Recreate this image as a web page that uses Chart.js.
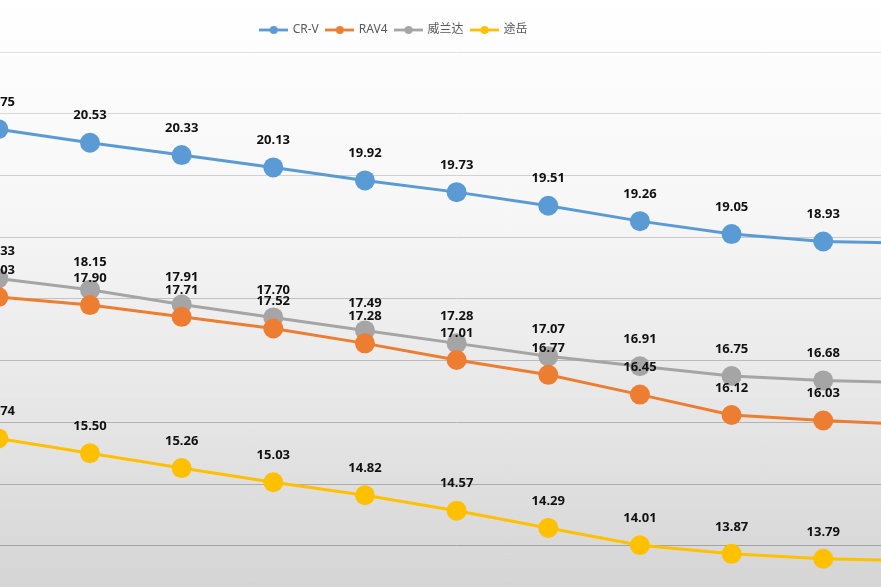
<!DOCTYPE html>
<html>
<head>
<meta charset="utf-8">
<script src="https://cdn.jsdelivr.net/npm/chart.js@4/dist/chart.umd.min.js"></script>
<style>
  html, body { margin: 0; padding: 0; }
  body {
    width: 881px; height: 587px; overflow: hidden; position: relative;
    background: linear-gradient(to bottom, #ffffff 0%, #f7f7f7 35%, #e9e9e9 65%, #d5d5d5 100%);
  }
  #chart { position: absolute; left: -130px; top: 0; }
</style>
</head>
<body>
<canvas id="chart" width="1050" height="680"></canvas>
<script>
// categories (the picture is cropped, so these are just positions)
const categories = ['1', '2', '3', '4', '5', '6', '7', '8', '9', '10', '11'];

const crv   = [20.75, 20.53, 20.33, 20.13, 19.92, 19.73, 19.51, 19.26, 19.05, 18.93, 18.90];
const rav4  = [18.03, 17.90, 17.71, 17.52, 17.28, 17.01, 16.77, 16.45, 16.12, 16.03, 15.96];
const weilanda = [18.33, 18.15, 17.91, 17.70, 17.49, 17.28, 17.07, 16.91, 16.75, 16.68, 16.64];
const tuyue = [15.74, 15.50, 15.26, 15.03, 14.82, 14.57, 14.29, 14.01, 13.87, 13.79, 13.76];

const seriesNames = ['CR-V', 'RAV4', '威兰达', '途岳'];
const seriesColors = ['#5B9BD5', '#ED7D31', '#A5A5A5', '#FFC000'];

const yMin = 12;
const yMax = 22;

// little "line + dot" marker for the legend, like the office legend
const legendMarker = (color) => {
    const c = document.createElement('canvas');
    c.width = 29;
    c.height = 10;
    const g = c.getContext('2d');
    g.strokeStyle = color;
    g.lineWidth = 2.8;
    g.beginPath();
    g.moveTo(0, 5);
    g.lineTo(29, 5);
    g.stroke();
    g.fillStyle = color;
    g.beginPath();
    g.arc(14.5, 5, 4, 0, Math.PI * 2);
    g.fill();
    return c;
}

const gridColor = (value) => {
    // lighter at the top, darker at the bottom
    const t = (yMax - value) / (yMax - 14);
    const v = Math.round(224 - t * 60);
    return 'rgb(' + v + ',' + v + ',' + v + ')';
}

const valueLabels = {
    id: 'valueLabels',
    afterDatasetsDraw(chart) {
        const ctx = chart.ctx;
        ctx.save();
        ctx.font = 'bold 13px "Noto Sans", "Noto Sans CJK SC", sans-serif';
        ctx.fillStyle = '#111111';
        ctx.textAlign = 'center';
        ctx.textBaseline = 'middle';
        chart.data.datasets.forEach((ds, i) => {
            chart.getDatasetMeta(i).data.forEach((pt, j) => {
                ctx.fillText(ds.data[j].toFixed(2), pt.x, pt.y - 27);
            });
        });
        ctx.restore();
    }
};

const allSeries = [crv, rav4, weilanda, tuyue];

const chartConfig = {
    type: 'line',
    data: {
        labels: categories,
        datasets: allSeries.map((values, i) => ({
            label: seriesNames[i],
            data: values,
            borderColor: seriesColors[i],
            backgroundColor: seriesColors[i],
            pointBackgroundColor: seriesColors[i],
            pointBorderWidth: 0,
            pointRadius: 10,
            pointHoverRadius: 10,
            borderWidth: 3,
            tension: 0,
            clip: false,
            pointStyle: 'circle'
        }))
    },
    options: {
        responsive: false,
        animation: false,
        events: [],
        layout: {
            autoPadding: false,
            padding: {left: 3.34, right: 5.1, top: 16, bottom: 10.7}
        },
        plugins: {
            tooltip: {enabled: false},
            legend: {
                display: true,
                position: 'top',
                labels: {
                    usePointStyle: true,
                    pointStyleWidth: 26,
                    padding: 8,
                    color: '#595959',
                    font: {size: 12, family: '"Noto Sans", "Noto Sans CJK SC", sans-serif'},
                    generateLabels: (chart) => chart.data.datasets.map((ds, i) => ({
                        text: ds.label,
                        pointStyle: legendMarker(seriesColors[i]),
                        fillStyle: seriesColors[i],
                        strokeStyle: seriesColors[i],
                        lineWidth: 0,
                        fontColor: '#595959',
                        hidden: false,
                        datasetIndex: i
                    }))
                }
            }
        },
        scales: {
            x: {
                display: true,
                position: 'top',
                afterFit: (scale) => { scale.height = 6; },
                ticks: {display: false},
                border: {display: false},
                grid: {display: false}
            },
            y: {
                display: true,
                min: yMin,
                max: yMax,
                afterFit: (scale) => { scale.width = 125; },
                ticks: {display: false, stepSize: 1},
                border: {display: false},
                grid: {
                    drawTicks: false,
                    lineWidth: 1,
                    color: (ctx) => gridColor(ctx.tick.value)
                }
            }
        }
    },
    plugins: [valueLabels]
};

new Chart(document.getElementById('chart'), chartConfig);
</script>
</body>
</html>
